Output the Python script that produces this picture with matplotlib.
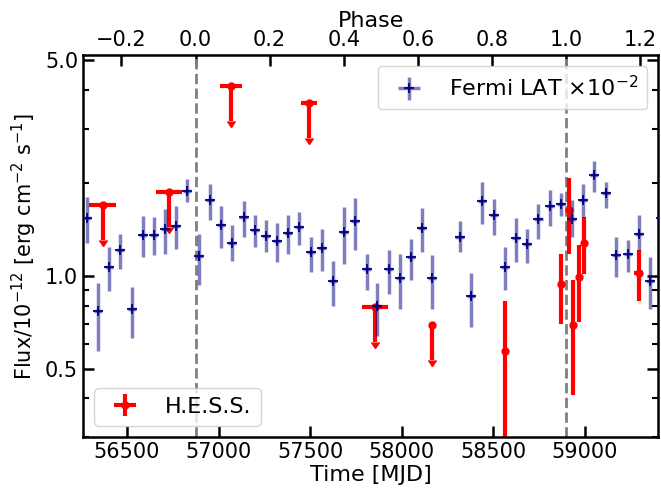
import numpy as np
import matplotlib
matplotlib.use('Agg')
import matplotlib.pyplot as plt
from matplotlib.ticker import FixedLocator, NullFormatter, LogLocator

# periastron epoch and orbital period (days)
T0 = 56874.0
PERIOD = 2022.7

# Fermi LAT light curve (flux in units of 1e-10, shown x1e-2)
fermi_t = [56280, 56340, 56402, 56462, 56525, 56585, 56645, 56707, 56770, 56830,
           56892, 56952, 57012, 57074, 57136, 57198, 57258, 57319, 57379, 57439,
           57503, 57563, 57625, 57685, 57746, 57808, 57864, 57928, 57992, 58051,
           58111, 58166, 58315, 58379, 58439, 58501, 58562, 58624, 58684, 58746,
           58808, 58868, 58929, 58989, 59051, 59113, 59171, 59233, 59294, 59357,
           59413]
fermi_f = [1.54, 0.77, 1.07, 1.21, 0.78, 1.36, 1.36, 1.42, 1.45, 1.89,
           1.16, 1.76, 1.46, 1.28, 1.55, 1.41, 1.35, 1.30, 1.38, 1.44,
           1.19, 1.23, 0.96, 1.39, 1.51, 1.05, 0.80, 1.05, 0.98, 1.15,
           1.43, 0.98, 1.34, 0.86, 1.75, 1.57, 1.07, 1.33, 1.27, 1.53,
           1.68, 1.71, 1.53, 1.76, 2.12, 1.85, 1.17, 1.18, 1.37, 0.96,
           1.54]
fermi_lo = [1.28, 0.57, 0.89, 1.05, 0.63, 1.15, 1.17, 1.18, 1.22, 1.73,
            0.93, 1.52, 1.23, 1.12, 1.34, 1.24, 1.19, 1.11, 1.18, 1.26,
            1.03, 1.04, 0.80, 1.09, 1.21, 0.90, 0.64, 0.87, 0.78, 0.97,
            1.19, 0.78, 1.19, 0.68, 1.47, 1.36, 0.90, 1.11, 1.10, 1.32,
            1.45, 1.56, 1.34, 1.55, 1.87, 1.66, 0.99, 1.03, 1.21, 0.78,
            1.34]
fermi_hi = [1.80, 0.95, 1.24, 1.37, 0.92, 1.56, 1.55, 1.65, 1.68, 2.06,
            1.37, 1.98, 1.68, 1.46, 1.75, 1.57, 1.52, 1.48, 1.57, 1.61,
            1.34, 1.42, 1.12, 1.67, 1.79, 1.18, 0.95, 1.21, 1.18, 1.32,
            1.66, 1.17, 1.51, 1.02, 2.02, 1.77, 1.24, 1.54, 1.42, 1.71,
            1.90, 1.85, 1.76, 1.98, 2.36, 2.02, 1.34, 1.31, 1.57, 1.15,
            1.76]
fermi_dt = 22

# H.E.S.S. detections
hess_t = [58564, 58868, 58910, 58935, 58967, 58993, 59294]
hess_f = [0.57, 0.94, 1.63, 0.69, 0.99, 1.28, 1.02]
hess_lo = [0.20, 0.70, 1.18, 0.41, 0.71, 1.01, 0.83]
hess_hi = [0.83, 1.18, 2.07, 0.97, 1.26, 1.55, 1.21]
hess_dt = [0, 0, 0, 0, 0, 0, 25]

# H.E.S.S. upper limits
ul_t = [56368, 56729, 57069, 57494, 57854, 58164]
ul_f = [1.69, 1.87, 4.14, 3.62, 0.79, 0.69]
ul_dt = [74, 71, 61, 45, 73, 0]

fermi_t = np.array(fermi_t, float)
fermi_f = np.array(fermi_f)
hess_f = np.array(hess_f)
ul_f = np.array(ul_f)

fig = plt.figure(figsize=(6.61, 4.95), dpi=100)
ax = fig.add_axes([0.1256, 0.1172, 0.8703, 0.7717])

red = '#ff0000'
# upper limits
ul = ax.errorbar(ul_t, ul_f, xerr=ul_dt, yerr=0.23 * ul_f, uplims=True,
                 fmt='o', color=red, ms=5, elinewidth=3, capsize=0, zorder=2)
# detections
h = ax.errorbar(hess_t, hess_f, xerr=hess_dt,
                yerr=[hess_f - np.array(hess_lo), np.array(hess_hi) - hess_f],
                fmt='o', color=red, ms=5, elinewidth=3, capsize=0, zorder=2,
                label='H.E.S.S.')

f = ax.errorbar(fermi_t, fermi_f, xerr=fermi_dt,
                yerr=[fermi_f - np.array(fermi_lo), np.array(fermi_hi) - fermi_f],
                fmt='+', color='navy', ecolor=(0, 0, 0.5, 0.5), elinewidth=2.5,
                ms=6.5, mew=1.3, capsize=0, zorder=3,
                label='Fermi LAT $\\times10^{-2}$')

for ph in [0.0, 1.0]:
    ax.axvline(T0 + ph * PERIOD, color='grey', ls='--', lw=2, zorder=1)

ax.set_yscale('log')
ax.set_xlim(56260, 59400)
ax.set_ylim(0.3, 5.2)
ax.yaxis.set_major_locator(FixedLocator([0.5, 1.0, 5.0]))
ax.set_yticklabels(['0.5', '1.0', '5.0'])
ax.yaxis.set_minor_locator(LogLocator(subs=np.arange(2, 10)))
ax.yaxis.set_minor_formatter(NullFormatter())
ax.set_xticks([56500, 57000, 57500, 58000, 58500, 59000])

ax.set_xlabel('Time [MJD]', fontsize=16, labelpad=2)
ax.set_ylabel('Flux/10$^{-12}$ [erg cm$^{-2}$ s$^{-1}$]', fontsize=15, labelpad=4)

ax.tick_params(which='both', direction='in', right=True, labelsize=15, width=1.8)
ax.tick_params(which='major', length=8)
ax.tick_params(which='minor', length=4.5, width=1.5)
for s in ax.spines.values():
    s.set_linewidth(1.8)

sec = ax.secondary_xaxis('top', functions=(lambda t: (t - T0) / PERIOD,
                                           lambda p: p * PERIOD + T0))
sec.set_xticks([-0.2, 0.0, 0.2, 0.4, 0.6, 0.8, 1.0, 1.2])
sec.tick_params(direction='in', length=8, width=1.8, labelsize=15)
sec.set_xlabel('Phase', fontsize=16, labelpad=2)

leg1 = ax.legend(handles=[f], loc='upper right', fontsize=16)
ax.add_artist(leg1)
ax.legend(handles=[h], loc='lower left', fontsize=16)

fig.savefig('out.png', dpi=100)
